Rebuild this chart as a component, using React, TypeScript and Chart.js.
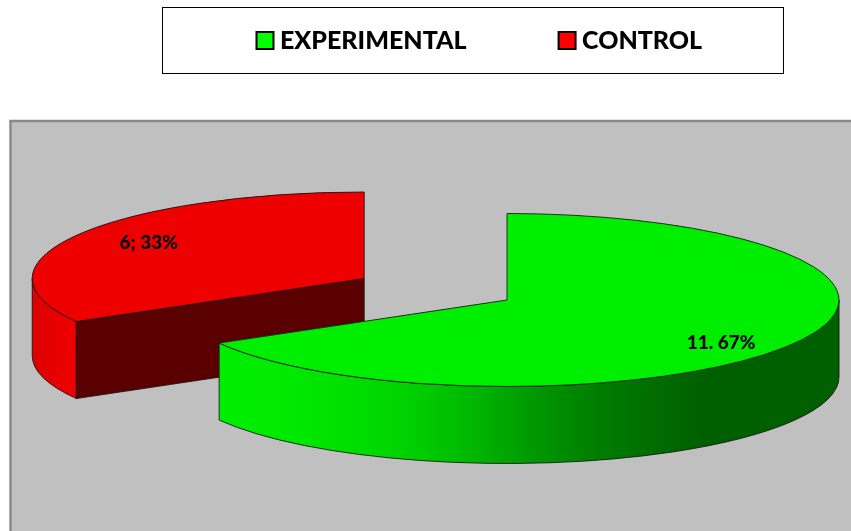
import React, { useEffect, useRef } from "react";
import { Chart, registerables } from "chart.js";

Chart.register(...registerables);

const categories = ["EXPERIMENTAL", "CONTROL"];
const sharePercent = [66.7, 33.3];
const dataLabels = ["11. 67%", "6; 33%"];
const topColors = ["#00ee00", "#ee0000"];
const legendColors = ["#00ff00", "#ff0000"];

// layout of the pseudo-3D projection
const W = 851;
const H = 531;
const RADIUS = 332;
const SQUASH = 0.2605;
const DEPTH = 77;
const ORIGIN_X = 507;
const ORIGIN_Y = 300;
const EXPLODE = [0, 165];
const LABEL_R = [0.745, 0.75];
const LABEL_DY = [11, -3];
const EDGE = "rgba(20,20,20,0.85)";

const greenStops: [number, string][] = [
  [220, "#00ee00"], [290, "#00ea00"], [400, "#00d400"], [470, "#00b800"],
  [520, "#009e00"], [600, "#007c00"], [700, "#006000"], [839, "#006000"],
];
const redStops: [number, string][] = [[32, "#dc0000"], [77, "#f00000"]];

function sideGradient(ctx: CanvasRenderingContext2D, stops: [number, string][]) {
  const a = stops[0][0];
  const b = stops[stops.length - 1][0];
  const g = ctx.createLinearGradient(a, 0, b, 0);
  stops.forEach(([x, c]) => g.addColorStop((x - a) / (b - a), c));
  return g;
}

function vertex(el: any, i: number) {
  const mid = (el.startAngle + el.endAngle) / 2;
  return {
    x: ORIGIN_X + Math.cos(mid) * EXPLODE[i],
    y: ORIGIN_Y + Math.sin(mid) * EXPLODE[i] * SQUASH,
  };
}

function outerWall(ctx: CanvasRenderingContext2D, el: any, i: number, fill: string | CanvasGradient) {
  const v = vertex(el, i);
  const a1 = Math.max(el.startAngle, 0);
  const a2 = Math.min(el.endAngle, Math.PI);
  if (a2 <= a1) return;
  const ry = RADIUS * SQUASH;
  ctx.beginPath();
  ctx.ellipse(v.x, v.y, RADIUS, ry, 0, a1, a2);
  ctx.ellipse(v.x, v.y + DEPTH, RADIUS, ry, 0, a2, a1, true);
  ctx.closePath();
  ctx.fillStyle = fill;
  ctx.fill();
  ctx.strokeStyle = EDGE;
  ctx.lineWidth = 1;
  ctx.stroke();
}

const pie3d = {
  id: "pie3d",
  beforeDraw(chart: any) {
    const { ctx } = chart;
    const lg = chart.legend;
    lg.left = 262.5 - lg.options.labels.padding;
    lg.top = 28 - lg.options.labels.padding;
    ctx.save();
    ctx.fillStyle = "#ffffff";
    ctx.fillRect(0, 0, W, H);
    ctx.fillStyle = "#c0c0c0";
    ctx.fillRect(10, 120, W - 10, H - 120);
    ctx.strokeStyle = "#8a8a8a";
    ctx.lineWidth = 2.5;
    ctx.beginPath();
    ctx.moveTo(10.5, H);
    ctx.lineTo(10.5, 121);
    ctx.lineTo(W, 121);
    ctx.stroke();
    ctx.strokeStyle = "#000000";
    ctx.lineWidth = 1;
    ctx.strokeRect(162.5, 7.5, 621, 66);
    ctx.restore();
  },
  beforeDatasetsDraw(chart: any) {
    const { ctx } = chart;
    const arcs = chart.getDatasetMeta(0).data;
    arcs.forEach((el: any, i: number) => {
      const offset = EXPLODE[i];
      const fix = 1 - Math.sin(Math.min(Math.PI, el.circumference));
      el.outerRadius = RADIUS - offset * fix;
    });
    const [green, red] = arcs;
    ctx.save();
    // back slice: outer wall and cut face
    outerWall(ctx, red, 1, sideGradient(ctx, redStops));
    const v = vertex(red, 1);
    const ex = v.x + Math.cos(red.startAngle) * RADIUS;
    const ey = v.y + Math.sin(red.startAngle) * RADIUS * SQUASH;
    ctx.beginPath();
    ctx.moveTo(v.x, v.y);
    ctx.lineTo(ex, ey);
    ctx.lineTo(ex, ey + DEPTH);
    ctx.lineTo(v.x, v.y + DEPTH);
    ctx.closePath();
    ctx.fillStyle = "#5a0000";
    ctx.fill();
    ctx.strokeStyle = EDGE;
    ctx.lineWidth = 1;
    ctx.stroke();
    // front slice wall
    outerWall(ctx, green, 0, sideGradient(ctx, greenStops));
    ctx.restore();
    const c = arcs[0];
    ctx.save();
    ctx.translate(ORIGIN_X, ORIGIN_Y);
    ctx.scale(1, SQUASH);
    ctx.translate(-c.x, -c.y);
  },
  afterDatasetsDraw(chart: any) {
    const { ctx } = chart;
    ctx.restore();
    const arcs = chart.getDatasetMeta(0).data;
    ctx.save();
    arcs.forEach((el: any, i: number) => {
      const v = vertex(el, i);
      ctx.beginPath();
      ctx.moveTo(v.x, v.y);
      ctx.ellipse(v.x, v.y, RADIUS, RADIUS * SQUASH, 0, el.startAngle, el.endAngle);
      ctx.closePath();
      ctx.fillStyle = topColors[i];
      ctx.fill();
      ctx.strokeStyle = EDGE;
      ctx.lineWidth = 1;
      ctx.stroke();
    });
    ctx.fillStyle = "#000000";
    ctx.font = "900 19px Lato";
    ctx.textAlign = "center";
    ctx.textBaseline = "middle";
    arcs.forEach((el: any, i: number) => {
      const v = vertex(el, i);
      const mid = (el.startAngle + el.endAngle) / 2;
      const x = v.x + Math.cos(mid) * RADIUS * LABEL_R[i];
      const y = v.y + Math.sin(mid) * RADIUS * LABEL_R[i] * SQUASH + LABEL_DY[i];
      ctx.fillText(dataLabels[i], x, y);
    });
    ctx.restore();
  },
};

export default function App() {
  const ref = useRef<HTMLCanvasElement>(null);
  useEffect(() => {
    const chart = new Chart(ref.current as HTMLCanvasElement, {
      type: "pie",
      data: {
        labels: categories,
        datasets: [
          {
            data: sharePercent,
            backgroundColor: topColors,
            borderWidth: 0,
            offset: EXPLODE.map((e) => e * 4),
            radius: RADIUS,
            clip: false,
          } as any,
        ],
      },
      options: {
        responsive: false,
        animation: false,
        events: [],
        plugins: {
          tooltip: { enabled: false },
          title: { display: false },
          legend: {
            display: true,
            position: "top",
            align: "start",
            labels: {
              usePointStyle: true,
              pointStyle: "rect",
              boxWidth: 5,
              boxHeight: 17,
              padding: 98,
              color: "#000000",
              font: { family: "Lato", size: 25, weight: "900" },
              generateLabels: () =>
                categories.map((text, i) => ({
                  text,
                  index: i,
                  fillStyle: legendColors[i],
                  strokeStyle: "#000000",
                  lineWidth: 2,
                  pointStyle: "rect",
                  fontColor: "#000000",
                })),
            },
          },
        },
      },
      plugins: [pie3d],
    } as any);
    return () => chart.destroy();
  }, []);
  return (
    <div style={{ position: "absolute", left: 0, top: 0, width: W, height: H, overflow: "hidden" }}>
      <canvas ref={ref} width={W} height={H} style={{ display: "block" }} />
    </div>
  );
}
